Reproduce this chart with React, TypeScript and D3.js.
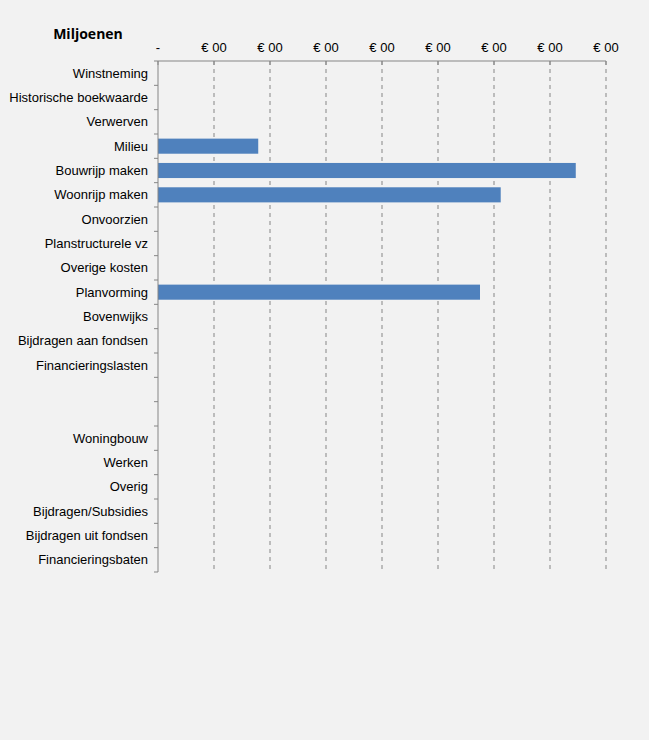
import React from "react";
import * as d3 from "d3";

const categories = [
  "Winstneming",
  "Historische boekwaarde",
  "Verwerven",
  "Milieu",
  "Bouwrijp maken",
  "Woonrijp maken",
  "Onvoorzien",
  "Planstructurele vz",
  "Overige kosten",
  "Planvorming",
  "Bovenwijks",
  "Bijdragen aan fondsen",
  "Financieringslasten",
  " ",
  "  ",
  "Woningbouw",
  "Werken",
  "Overig",
  "Bijdragen/Subsidies",
  "Bijdragen uit fondsen",
  "Financieringsbaten",
];
const values = [0, 0, 0, 1.79, 7.46, 6.12, 0, 0, 0, 5.75, 0, 0, 0, 0, 0, 0, 0, 0, 0, 0, 0];
const xTicks = [0, 1, 2, 3, 4, 5, 6, 7, 8];
const xTickLabels = ["-", "€ 00", "€ 00", "€ 00", "€ 00", "€ 00", "€ 00", "€ 00", "€ 00"];

export default function App() {
  const W = 649, H = 740;
  const left = 158, right = 606, top = 61, bottom = 572;
  const x = d3.scaleLinear().domain([0, 8]).range([left, right]);
  const y = d3.scaleBand().domain(categories).range([top, bottom]).paddingInner(0.38).paddingOuter(0.19);
  const step = (bottom - top) / categories.length;
  const boundaries = d3.range(categories.length + 1).map((i) => top + i * step);
  const font = "Liberation Sans, Arial, sans-serif";
  const axisColor = "#868686";
  return (
    <svg width={W} height={H} style={{ position: "absolute", left: 0, top: 0 }} fontFamily={font}>
      <rect x={0} y={0} width={W} height={H} fill="#f2f2f2" />
      <text x={88} y={39} textAnchor="middle" fontWeight="bold" fontSize={14} fontFamily="Open Sans, Liberation Sans, sans-serif" fill="#000">Miljoenen</text>
      {xTicks.slice(1).map((t) => (
        <line key={"g" + t} x1={x(t)} x2={x(t)} y1={top} y2={bottom} stroke={axisColor} strokeDasharray="4,4" strokeWidth={1} />
      ))}
      {categories.map((c, i) => (
        values[i] > 0 ? (
          <rect key={"b" + i} x={x(0)} y={y(c)!} width={x(values[i]) - x(0)} height={y.bandwidth()} fill="#4f81bd" />
        ) : null
      ))}
      <line x1={left} x2={right} y1={top} y2={top} stroke={axisColor} />
      {xTicks.map((t, i) => (
        <g key={"t" + t}>
          <line x1={x(t)} x2={x(t)} y1={top} y2={top + 4} stroke={axisColor} />
          <text x={x(t)} y={52} textAnchor="middle" fontSize={13} fill="#000">{xTickLabels[i]}</text>
        </g>
      ))}
      <line x1={left} x2={left} y1={top} y2={bottom} stroke={axisColor} />
      {boundaries.map((b, i) => (
        <line key={"yt" + i} x1={left - 4} x2={left} y1={b} y2={b} stroke={axisColor} />
      ))}
      {categories.map((c) => (
        <text key={"l" + c} x={148} y={y(c)! + y.bandwidth() / 2} dy="0.35em" textAnchor="end" fontSize={13} fill="#000">{c.trim()}</text>
      ))}
    </svg>
  );
}
